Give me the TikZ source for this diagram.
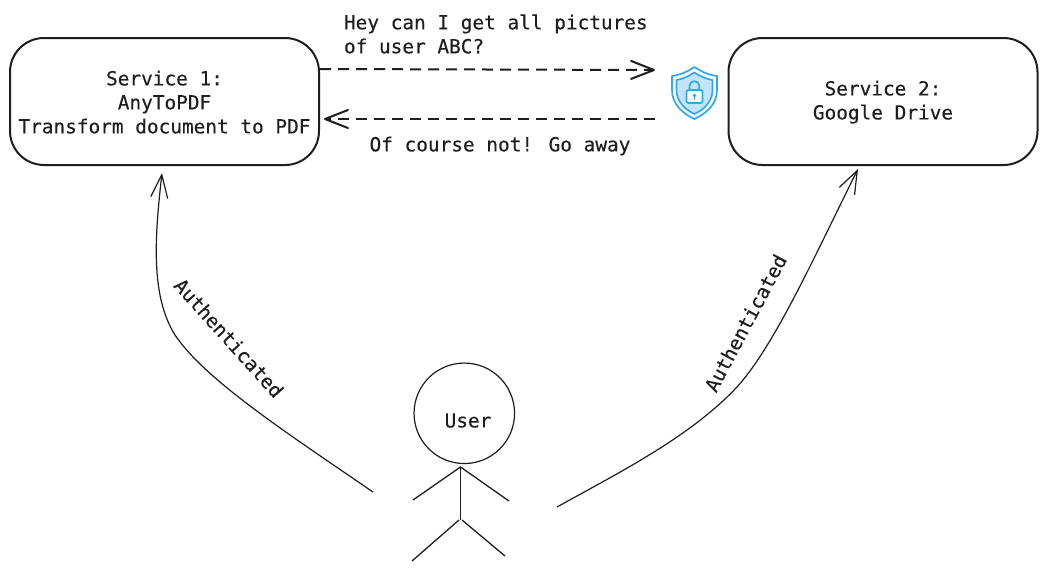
\documentclass[tikz,border=0pt]{standalone}
\usepackage{fontspec}
\setmainfont[FakeBold=0.25]{DejaVu Sans Mono}
\usetikzlibrary{arrows.meta}
\definecolor{ink}{HTML}{1E1E1E}
\definecolor{shieldblue}{HTML}{2FA8EE}
\definecolor{shieldfill}{HTML}{C5E4FB}
\tikzset{
  x=1pt,y=-1pt,
  txt/.style={font=\fontsize{19.4}{24}\selectfont,text=ink,inner sep=0pt,outer sep=0pt},
  svcbox/.style={draw=ink,line width=2pt,rounded corners=34pt,minimum width=309pt,minimum height=127pt,inner sep=0pt,outer sep=0pt,align=center,txt},
  dashflow/.style={draw=ink,line width=2pt,dash pattern=on 11pt off 7pt,-{Straight Barb[length=23pt,width=18pt,line width=2pt,round]}},
  authflow/.style={draw=ink,line width=1.2pt,-{Straight Barb[length=23pt,width=17pt,line width=1.2pt]}},
  limb/.style={draw=ink,line width=1.3pt},
  shieldline/.style={draw=shieldblue,line width=1.7pt,line join=round}
}
\begin{document}
\begin{tikzpicture}
\useasboundingbox (0,0) rectangle (1047,571);
\fill[white] (0,0) rectangle (1047,571);
% services
\node[svcbox] (s1) at (164.5,101.5) {\rule{0pt}{16pt}Service 1:\\AnyToPDF\\Transform document to PDF};
\node[svcbox] (s2) at (883,101.5) {\rule{0pt}{16pt}Service 2:\\Google Drive};
% messages
\node[txt,anchor=west,align=left] (ask) at (344,34) {Hey can I get all pictures\\of user ABC?};
\node[txt] (deny) at (500,146) {Of course not! Go away};
\coordinate (askstart) at (320,69);
\coordinate (askend) at (655,70);
\coordinate (denystart) at (655,119);
\coordinate (denyend) at (324,119);
\draw[dashflow] (askstart) -- (askend);
\draw[dashflow] (denystart) -- (denyend);
% shield
\filldraw[shieldline,fill=white] (694.4,67) .. controls (687,72) and (680,75) .. (672,76)
  -- (672,90) .. controls (672,104) and (682,113) .. (694.4,119)
  .. controls (707,113) and (717,104) .. (717,90) -- (717,76)
  .. controls (709,75) and (702,72) .. (694.4,67) -- cycle;
\filldraw[shieldline,fill=shieldfill] (694.4,72.5) .. controls (688,76.5) and (683,79) .. (676.5,80)
  -- (676.5,90) .. controls (676.5,101) and (684,109) .. (694.4,114)
  .. controls (705,109) and (712.5,101) .. (712.5,90) -- (712.5,80)
  .. controls (706,79) and (701,76.5) .. (694.4,72.5) -- cycle;
\draw[shieldline] (689.5,90) -- (689.5,86) arc[start angle=180,end angle=360,radius=4.9] -- (699.3,90);
\filldraw[shieldline,fill=white,rounded corners=2pt] (686.5,90) rectangle (702.5,103);
\fill[shieldblue] (694.4,95.5) circle[radius=1.9];
\draw[shieldblue,line width=1.2pt] (694.4,95.5) -- (694.4,99.5);
% user
\node[circle,draw=ink,line width=1.2pt,minimum size=100.5pt,inner sep=0pt,outer sep=0pt] (head) at (464.3,413.3) {};
\node[txt] (user) at (468,420.5) {User};
\coordinate (neck) at (460.5,467);
\coordinate (hip) at (460.5,520);
\coordinate (handl) at (413,500);
\coordinate (handr) at (509,501);
\coordinate (footl) at (412,561);
\coordinate (footr) at (505,556);
\draw[limb] (neck) -- (hip);
\draw[limb] (handl) -- (neck) -- (handr);
\draw[limb] (footl) -- (459,520);
\draw[limb] (462,520) -- (footr);
% authenticated arrows
\coordinate (authla) at (373,492);
\coordinate (authlb) at (162,173);
\coordinate (authra) at (557,507);
\coordinate (authrb) at (858,169);
\draw[authflow] (authla) .. controls (290,435) and (205,380) .. (175,335)
  .. controls (150,295) and (155,235) .. (authlb);
\draw[authflow] (authra) .. controls (620,472) and (690,437) .. (737,387)
  .. controls (775,345) and (815,255) .. (authrb);
\node[txt,rotate=-48] (authl) at (229,338) {Authenticated};
\node[txt,rotate=62] (authr) at (745.5,323) {Authenticated};
\end{tikzpicture}
\end{document}
